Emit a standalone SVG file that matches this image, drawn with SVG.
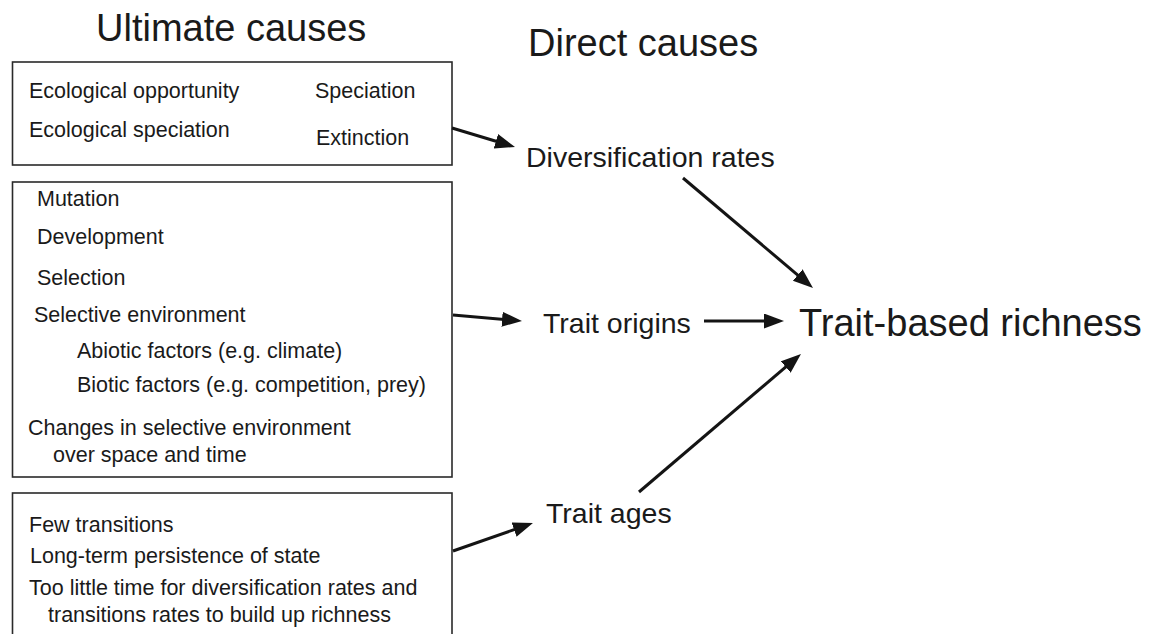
<svg xmlns="http://www.w3.org/2000/svg" width="1155" height="634" viewBox="0 0 1155 634">
  <style>
    text { font-family: "Liberation Sans", Arial, Helvetica, sans-serif; fill: #1a1a1a; }
    .title { font-size: 38px; }
    .mid { font-size: 28.5px; }
    .item { font-size: 21.5px; }
    .box { fill: #ffffff; stroke: #2a2a2a; stroke-width: 1.6; }
    .edge { stroke: #141414; stroke-width: 3; fill: none; marker-end: url(#head); }
  </style>
  <defs>
    <marker id="head" markerUnits="userSpaceOnUse" markerWidth="22" markerHeight="16" refX="14" refY="7.5" orient="auto">
      <path d="M0,0 L20,7.5 L0,15 z" fill="#141414"/>
    </marker>
  </defs>
  <rect width="1155" height="634" fill="#ffffff"/>

  <!-- column headings -->
  <text class="title" x="96" y="41">Ultimate causes</text>
  <text class="title" x="528" y="56">Direct causes</text>

  <!-- ultimate cause boxes -->
  <g id="box-diversification">
    <rect class="box" x="12.5" y="62" width="439.5" height="103"/>
    <text class="item" x="29" y="98">Ecological opportunity</text>
    <text class="item" x="29" y="137">Ecological speciation</text>
    <text class="item" x="315" y="98">Speciation</text>
    <text class="item" x="316" y="145">Extinction</text>
  </g>

  <g id="box-origins">
    <rect class="box" x="12.5" y="182" width="439.5" height="295"/>
    <text class="item" x="37" y="206">Mutation</text>
    <text class="item" x="37" y="244">Development</text>
    <text class="item" x="37" y="285">Selection</text>
    <text class="item" x="34" y="322">Selective environment</text>
    <text class="item" x="77" y="358">Abiotic factors (e.g. climate)</text>
    <text class="item" x="77" y="392">Biotic factors (e.g. competition, prey)</text>
    <text class="item" x="28" y="435">Changes in selective environment</text>
    <text class="item" x="53" y="462">over space and time</text>
  </g>

  <g id="box-ages">
    <rect class="box" x="12.5" y="493" width="439.5" height="170"/>
    <text class="item" x="29" y="532">Few transitions</text>
    <text class="item" x="30" y="563">Long-term persistence of state</text>
    <text class="item" x="29" y="595">Too little time for diversification rates and</text>
    <text class="item" x="48" y="622">transitions rates to build up richness</text>
  </g>

  <!-- direct causes -->
  <g id="node-diversification-rates">
    <text class="mid" x="526" y="167">Diversification rates</text>
  </g>
  <g id="node-trait-origins">
    <text class="mid" x="543" y="333">Trait origins</text>
  </g>
  <g id="node-trait-ages">
    <text class="mid" x="546" y="523">Trait ages</text>
  </g>

  <!-- outcome -->
  <g id="node-richness">
    <text class="title" x="799" y="336">Trait-based richness</text>
  </g>

  <!-- connectors -->
  <g id="connectors">
    <line class="edge" x1="452" y1="128" x2="509.3" y2="145.3"/>
    <line class="edge" x1="683" y1="178" x2="808.4" y2="284.1"/>
    <line class="edge" x1="453" y1="315" x2="516" y2="320.5"/>
    <line class="edge" x1="704" y1="321" x2="778" y2="321"/>
    <line class="edge" x1="639" y1="492" x2="796.4" y2="357.9"/>
    <line class="edge" x1="453" y1="551" x2="527.3" y2="525"/>
  </g>
</svg>
